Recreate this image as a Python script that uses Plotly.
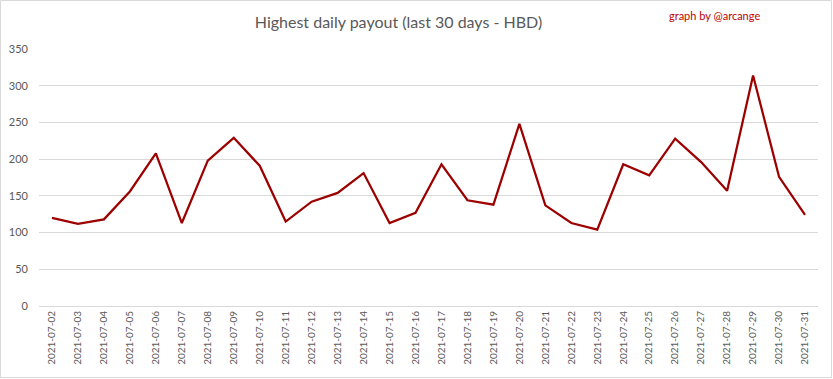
import plotly.graph_objects as go

dates = ["2021-07-%02d" % d for d in range(2, 32)]
payout = [120, 112, 118, 156, 208, 113, 198, 229, 191, 115,
          142, 154, 181, 113, 127, 193, 144, 138, 248, 137,
          113, 104, 193, 178, 228, 196, 157, 314, 176, 124]
y_ticks = [0, 50, 100, 150, 200, 250, 300, 350]

W, H = 833, 379
ml, mr, mt, mb = 39, 15, 49, 73
pw, ph = W - ml - mr, H - mt - mb

fig = go.Figure(go.Scatter(
    x=dates, y=payout, mode="lines",
    line=dict(color="#9c0000", width=2.25),
))

font = "Lato, 'Open Sans', sans-serif"
fig.update_layout(
    width=W, height=H,
    margin=dict(l=ml, r=mr, t=mt, b=mb),
    paper_bgcolor="white", plot_bgcolor="white",
    showlegend=False,
    title=dict(text="Highest daily payout (last 30 days - HBD)",
               x=(398.5) / W, xanchor="center", y=1 - 22 / H, yanchor="middle",
               font=dict(family=font, size=16, color="#595959")),
    xaxis=dict(type="category", categoryorder="array", categoryarray=dates,
               range=[-0.5, len(dates) - 0.5], showgrid=False, automargin=False,
               tickangle=-90, ticks="", showline=False, ticklabelstandoff=2,
               tickfont=dict(family=font, size=10, color="#595959")),
    yaxis=dict(range=[0, 350], tickvals=y_ticks, showgrid=True, automargin=False,
               gridcolor="#d9d9d9", gridwidth=1, zeroline=True,
               zerolinecolor="#d9d9d9", zerolinewidth=1, ticks="",
               ticklabelstandoff=10,
               tickfont=dict(family=font, size=11, color="#595959")),
    annotations=[dict(text="graph by @arcange", xref="paper", yref="paper",
                      x=(762 - ml) / pw, y=1 + (mt - 15) / ph,
                      xanchor="right", yanchor="middle", showarrow=False,
                      font=dict(family=font, size=11, color="#c00000"))],
    shapes=[dict(type="rect", xref="paper", yref="paper",
                 x0=(0.5 - ml) / pw, x1=(W - 1.5 - ml) / pw,
                 y0=-(mb - 1.5) / ph, y1=1 + (mt - 0.5) / ph,
                 line=dict(color="#d9d9d9", width=1))],
)

fig.write_html("out.html", config={"displayModeBar": False},
               post_script="document.body.style.margin='0';document.body.style.overflow='hidden';")
